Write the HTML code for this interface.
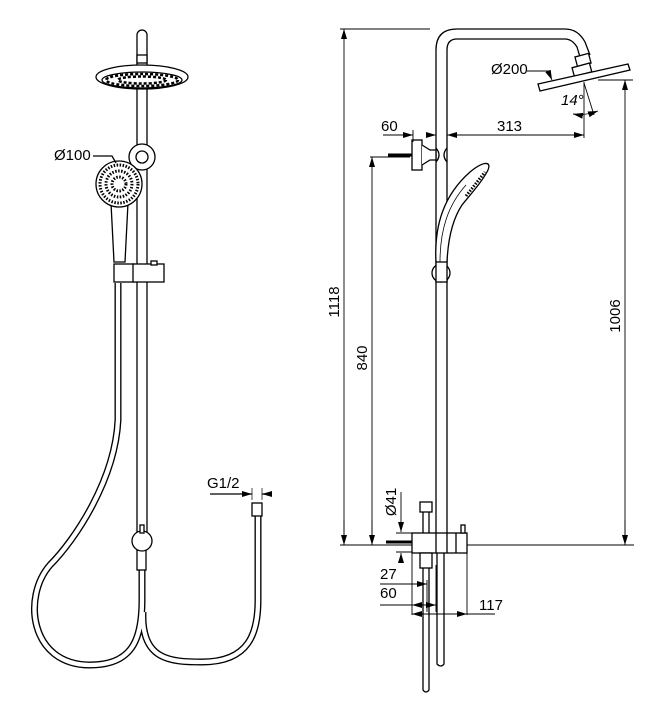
<!DOCTYPE html>
<html><head><style>
html,body{margin:0;padding:0;background:#fff;}
svg{display:block;}
text{font-family:"Liberation Sans",sans-serif;font-size:15px;fill:#000;}
</style></head><body>
<svg width="662" height="720" viewBox="0 0 662 720" xmlns="http://www.w3.org/2000/svg">
<defs>
<marker id="a" viewBox="0 0 10 6" refX="10" refY="3" markerWidth="10" markerHeight="6" orient="auto-start-reverse" markerUnits="userSpaceOnUse"><path d="M0,0L10,3L0,6z" fill="#000"/></marker>
</defs>
<g fill="none" stroke="#000" stroke-width="1.3">
<g stroke-width="7" stroke-linecap="butt">
<path d="M118,283 L118,420 C115,480 75,540 50,565 C22,597 30,665 90,665 C132,665 142,640 142,600 L142,568"/>
<path d="M143,612 C141,660 170,662 202,662 C250,662 258,632 258,600 L258,515"/>
</g>
<g stroke="#fff" stroke-width="4.3">
<path d="M118,283 L118,420 C115,480 75,540 50,565 C22,597 30,665 90,665 C132,665 142,640 142,600 L142,568"/>
<path d="M143,612 C141,660 170,662 202,662 C250,662 258,632 258,600 L258,515"/>
</g>
<rect x="252" y="503" width="10" height="13" fill="#fff"/>
<path d="M137,535 L137,35 A5,5 0 0 1 147,35 L147,535" fill="#fff"/>
<rect x="137" y="55" width="10" height="8" fill="#fff"/>
<ellipse cx="142" cy="77" rx="46" ry="12" fill="#fff"/>
<ellipse cx="142" cy="80" rx="40" ry="8" fill="#fff"/>
<ellipse cx="142" cy="80" rx="36" ry="6" fill="none" stroke-dasharray="3 2" stroke-width="2.5"/>
<ellipse cx="142" cy="80" rx="24" ry="3.5" fill="none" stroke-dasharray="3 2" stroke-width="2.5"/>
<circle cx="142" cy="157" r="13" fill="#fff"/>
<circle cx="142" cy="157" r="6" fill="#fff"/>
<path d="M111,203 L114,262 L125,262 L128,203" fill="#fff"/>
<circle cx="119" cy="184" r="23" fill="#fff"/>
<circle cx="119" cy="184" r="19" fill="none" stroke-dasharray="1.5 1.5" stroke-width="3"/>
<circle cx="119" cy="184" r="13" fill="none" stroke-dasharray="1.5 1.5" stroke-width="3"/>
<circle cx="119" cy="184" r="7" fill="none" stroke-dasharray="1.5 1.5" stroke-width="3"/>
<rect x="114" y="264" width="20" height="18" fill="#fff"/>
<rect x="133" y="264" width="31" height="18" fill="#fff"/>
<rect x="151" y="261" width="6" height="4" fill="#fff"/>
<rect x="137" y="550" width="9" height="20" fill="#fff"/>
<circle cx="142" cy="541" r="10" fill="#fff"/>
<rect x="140" y="525" width="4" height="8" fill="#fff"/>
<path d="M93,156 L112,156 L116,163"/>
<path d="M210,494 L252,494" marker-end="url(#a)"/>
<path d="M272,494 L262,494" marker-end="url(#a)"/>
<path d="M252,488 L252,500 M262,488 L262,500" stroke-width="0.7"/>

<path d="M436,545 L436,50 Q436,29 457,29 L565,29 Q578,29 585,42 L590,55"/>
<path d="M447,545 L447,50 Q447,39 457,39 L565,39 Q572,39 577,47 L580,57"/>
<rect x="576" y="55" width="14" height="10" fill="#fff" transform="rotate(-15 583 60)"/>
<rect x="573" y="65" width="18" height="9" fill="#fff" transform="rotate(-15 583 70)"/>
<path d="M538,84 L628,64 L630,70 L540,91 Z" fill="#fff"/>
<rect x="412" y="140" width="10" height="30" fill="#fff"/>
<path d="M422,145 L430,150 L436,150 L436,160 L430,160 L422,165" fill="#fff"/>
<path d="M436,148 Q442,155 436,162 M447,148 Q441,155 447,162"/>
<path d="M388,155 L412,155" stroke-width="3"/>
<path d="M436,262 C434,225 444,195 470,172 C482,162 492,160 488,170 C482,182 470,195 462,205 C452,220 448,240 447,262" fill="#fff"/>
<path d="M440,262 C440,230 448,205 466,185" stroke-width="0.8"/>
<path d="M466,196 L485,172" stroke-width="3" stroke-dasharray="1.5 1.5"/>
<circle cx="441" cy="273" r="9" fill="#fff"/>
<rect x="436" y="262" width="11" height="20" fill="#fff"/>
<rect x="412" y="533" width="55" height="20" fill="#fff"/>
<path d="M436,533 L436,553 M447,533 L447,553 M456,533 L456,553"/>
<rect x="461" y="525" width="4" height="8" fill="#fff"/>
<path d="M423,533 L423,512 M429,533 L429,512"/>
<rect x="420" y="502" width="12" height="10" fill="#fff"/>
<path d="M386,542 L412,542" stroke-width="3"/>
<rect x="420" y="553" width="12" height="15" fill="#fff"/>
<path d="M423,568 L423,690 Q426,694 429,690 L429,568"/>
<path d="M437,553 L437,664 Q441,668 444,664 L444,553"/>
<g stroke-width="0.9">
<path d="M340,29 L430,29"/>
<path d="M344,545 L344,29" marker-end="url(#a)"/>
<path d="M372,545 L372,157" marker-end="url(#a)"/>
<path d="M370,157 L410,157"/>
<path d="M625,545 L625,80" marker-end="url(#a)"/>
<path d="M598,80 L633,80"/>
<path d="M340,545 L412,545 M467,545 L634,545"/>
<path d="M344,520 L344,545" marker-end="url(#a)"/>
<path d="M372,520 L372,545" marker-end="url(#a)"/>
<path d="M625,520 L625,545" marker-end="url(#a)"/>
<path d="M383,135 L413,135"/>
<path d="M400,135 L413,135" marker-end="url(#a)"/>
<path d="M430,135 L436,135" marker-end="url(#a)"/>
<path d="M457,135 L447,135" marker-end="url(#a)"/>
<path d="M447,135 L584,135" marker-end="url(#a)"/>
<path d="M413,130 L413,142 M584,82 L584,138"/>
<path d="M584,83 L594,115"/>
<path d="M573,114 Q584,116 598,111" marker-start="url(#a)" marker-end="url(#a)"/>
<path d="M527,71 L548,71 L552,80" marker-end="url(#a)"/>
<path d="M401,492 L401,532" marker-end="url(#a)"/>
<path d="M401,562 L401,553" marker-end="url(#a)"/>
<path d="M396,533 L412,533 M396,552 L412,552"/>
<path d="M412,553 L412,615 M467,553 L467,615 M436,565 L436,612 M427,580 L427,612"/>
<path d="M380,584 L427,584" marker-end="url(#a)"/>
<path d="M380,605 L436,605"/>
<path d="M412,605 L427,605" marker-start="url(#a)"/>
<path d="M427,605 L436,605" marker-end="url(#a)"/>
<path d="M412,614 L467,614" marker-start="url(#a)" marker-end="url(#a)"/>
<path d="M467,614 L495,614"/>
</g>
</g>
<text x="54" y="160">Ø100</text>
<text x="207" y="488">G1/2</text>
<text x="491" y="74">Ø200</text>
<text x="561" y="105" font-style="italic">14°</text>
<text x="381" y="131">60</text>
<text x="497" y="131">313</text>
<text x="479" y="610">117</text>
<text x="380" y="579">27</text>
<text x="380" y="598">60</text>
<text transform="translate(339,302) rotate(-90)" text-anchor="middle">1118</text>
<text transform="translate(367,358) rotate(-90)" text-anchor="middle">840</text>
<text transform="translate(620,316) rotate(-90)" text-anchor="middle">1006</text>
<text transform="translate(396,502) rotate(-90)" text-anchor="middle">Ø41</text>
</svg>
</body></html>
